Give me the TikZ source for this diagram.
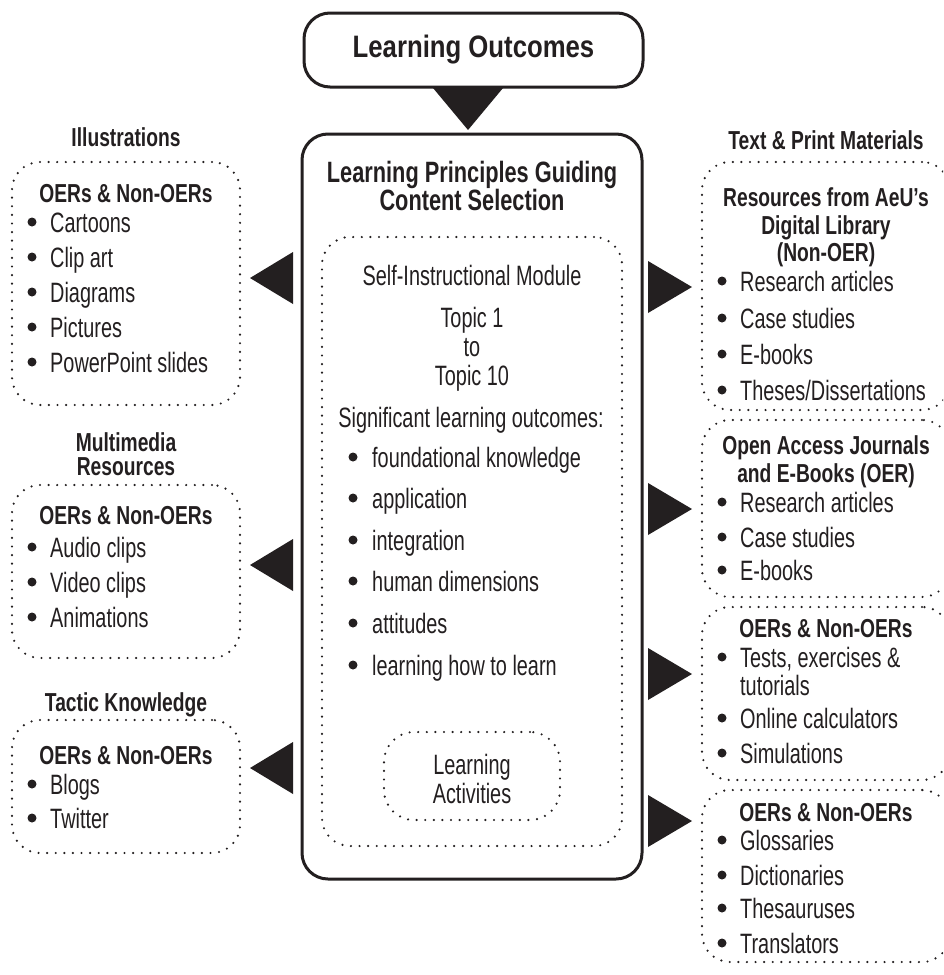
\documentclass[tikz,border=0pt]{standalone}
\usepackage{fontspec}
\setmainfont{Liberation Sans}[FakeStretch=0.71]
\newfontfamily\headfont{Liberation Sans}[FakeStretch=0.74]
\newfontfamily\lofont{Liberation Sans}[FakeStretch=0.83]
\definecolor{ink}{RGB}{35,31,32}
\tikzset{
  solidbox/.style={draw=ink, line width=3pt, rounded corners=26pt, inner sep=0pt},
  dotbox/.style={draw=ink, line width=2.4pt, dash pattern=on 0pt off 8.6pt, line cap=round, rounded corners=28pt, inner sep=0pt},
  pointer/.style={fill=ink, draw=none},
  body/.style={font=\fontsize{28}{32}\selectfont, text=ink, inner sep=0pt, anchor=base},
  bodyl/.style={body, anchor=base west},
  head/.style={font=\headfont\fontsize{26}{30}\selectfont\bfseries, text=ink, inner sep=0pt, anchor=base, text height=19pt, text depth=4pt},
  dotmark/.style={circle, fill=ink, draw=none, minimum size=9pt, inner sep=0pt},
}
% name, bullet x, text x, y (visual centre), text
\newcommand\bulletitem[5]{%
  \node[dotmark] (#1b) at (#2,#4) {};
  \node[bodyl] (#1) at (#3,#4+10) {#5};}
\newcommand\plainline[4]{% name, x, y, text
  \node[bodyl] (#1) at (#2,#3+10) {#4};}
\newcommand\ctxt[4]{% name, x, y, text
  \node[body] (#1) at (#2,#3+10) {#4};}
\newcommand\htxt[4]{% name, x, y, text
  \node[head] (#1) at (#2,#3+9.5) {#4};}
\begin{document}
\begin{tikzpicture}[x=1pt,y=-1pt]
\clip (0,0) rectangle (943,975);
\fill[white] (0,0) rectangle (943,975);

% ---------- centre ----------
\node[solidbox, minimum width=339pt, minimum height=74pt] (lo) at (473.5,50) {};
\node[text=ink, inner sep=0pt, font=\lofont\fontsize{31}{36}\selectfont\bfseries] (lot) at (473.5,50) {Learning Outcomes};
\fill[pointer] (433,88) -- (503,88) -- (468,130) -- cycle;

\node[solidbox, minimum width=340pt, minimum height=745pt] (main) at (472,506.5) {};
\node[head, font=\headfont\fontsize{29.4}{33}\selectfont\bfseries] (mt1) at (472,182) {Learning Principles Guiding};
\node[head, font=\headfont\fontsize{29.4}{33}\selectfont\bfseries] (mt2) at (472,210) {Content Selection};

\node[dotbox, minimum width=300pt, minimum height=609pt] (inner) at (472,541.5) {};
\ctxt{c1}{472}{275}{Self-Instructional Module}
\ctxt{c2}{472}{317}{Topic 1}
\ctxt{c3}{472}{346}{to}
\ctxt{c4}{472}{375}{Topic 10}
\ctxt{c5}{471}{417}{Significant learning outcomes:}
\bulletitem{ci1}{353}{372}{457}{foundational knowledge}
\bulletitem{ci2}{353}{372}{498}{application}
\bulletitem{ci3}{353}{372}{540}{integration}
\bulletitem{ci4}{353}{372}{581}{human dimensions}
\bulletitem{ci5}{353}{372}{623}{attitudes}
\bulletitem{ci6}{353}{372}{665}{learning how to learn}

\node[dotbox, rounded corners=30pt, minimum width=176pt, minimum height=88pt] (la) at (472,776) {};
\ctxt{la1}{472}{764}{Learning}
\ctxt{la2}{472}{793}{Activities}

% ---------- left ----------
\htxt{lh1}{126}{137}{Illustrations}
\node[dotbox, minimum width=228pt, minimum height=243pt] (l1) at (126,283.5) {};
\htxt{l1t}{126}{193}{OERs \& Non-OERs}
\bulletitem{l1a}{32}{50}{222}{Cartoons}
\bulletitem{l1b}{32}{50}{257}{Clip art}
\bulletitem{l1c}{32}{50}{292}{Diagrams}
\bulletitem{l1d}{32}{50}{327}{Pictures}
\bulletitem{l1e}{32}{50}{362}{PowerPoint slides}
\fill[pointer] (250,278) -- (293,252) -- (293,304) -- cycle;

\htxt{lh2a}{126}{442}{Multimedia}
\htxt{lh2b}{126}{466}{Resources}
\node[dotbox, minimum width=228pt, minimum height=173pt] (l2) at (126,571.5) {};
\htxt{l2t}{126}{515}{OERs \& Non-OERs}
\bulletitem{l2a}{32}{50}{547}{Audio clips}
\bulletitem{l2b}{32}{50}{582}{Video clips}
\bulletitem{l2c}{32}{50}{617}{Animations}
\fill[pointer] (250,565) -- (293,539) -- (293,591) -- cycle;

\htxt{lh3}{126}{702}{Tactic Knowledge}
\node[dotbox, minimum width=228pt, minimum height=133pt] (l3) at (126,786.5) {};
\htxt{l3t}{126}{755}{OERs \& Non-OERs}
\bulletitem{l3a}{32}{50}{784}{Blogs}
\bulletitem{l3b}{32}{50}{818}{Twitter}
\fill[pointer] (250,768) -- (293,742) -- (293,794) -- cycle;

% ---------- right ----------
\htxt{rh}{826}{140}{Text \& Print Materials}
\node[dotbox, minimum width=248pt, minimum height=248pt] (r1) at (826,286) {};
\htxt{r1t1}{826}{197}{Resources from AeU’s}
\htxt{r1t2}{826}{225}{Digital Library}
\htxt{r1t3}{826}{252}{(Non-OER)}
\bulletitem{r1a}{722}{740}{281}{Research articles}
\bulletitem{r1b}{722}{740}{318}{Case studies}
\bulletitem{r1c}{722}{740}{354}{E-books}
\bulletitem{r1d}{722}{740}{390}{Theses/Dissertations}
\fill[pointer] (692,287) -- (648,261) -- (648,313) -- cycle;

\node[dotbox, minimum width=248pt, minimum height=177pt] (r2) at (826,508.5) {};
\htxt{r2t1}{826}{445}{Open Access Journals}
\htxt{r2t2}{826}{473}{and E-Books (OER)}
\bulletitem{r2a}{722}{740}{502}{Research articles}
\bulletitem{r2b}{722}{740}{537}{Case studies}
\bulletitem{r2c}{722}{740}{570}{E-books}
\fill[pointer] (692,509) -- (648,483) -- (648,535) -- cycle;

\node[dotbox, minimum width=248pt, minimum height=173pt] (r3) at (826,693.5) {};
\htxt{r3t}{826}{628}{OERs \& Non-OERs}
\bulletitem{r3a}{722}{740}{657}{Tests, exercises \&}
\plainline{r3a2}{740}{685}{tutorials}
\bulletitem{r3b}{722}{740}{718}{Online calculators}
\bulletitem{r3c}{722}{740}{753}{Simulations}
\fill[pointer] (692,674) -- (648,648) -- (648,700) -- cycle;

\node[dotbox, minimum width=248pt, minimum height=172pt] (r4) at (826,876) {};
\htxt{r4t}{826}{812}{OERs \& Non-OERs}
\bulletitem{r4a}{722}{740}{840}{Glossaries}
\bulletitem{r4b}{722}{740}{875}{Dictionaries}
\bulletitem{r4c}{722}{740}{908}{Thesauruses}
\bulletitem{r4d}{722}{740}{943}{Translators}
\fill[pointer] (692,821) -- (648,795) -- (648,847) -- cycle;
\end{tikzpicture}
\end{document}
